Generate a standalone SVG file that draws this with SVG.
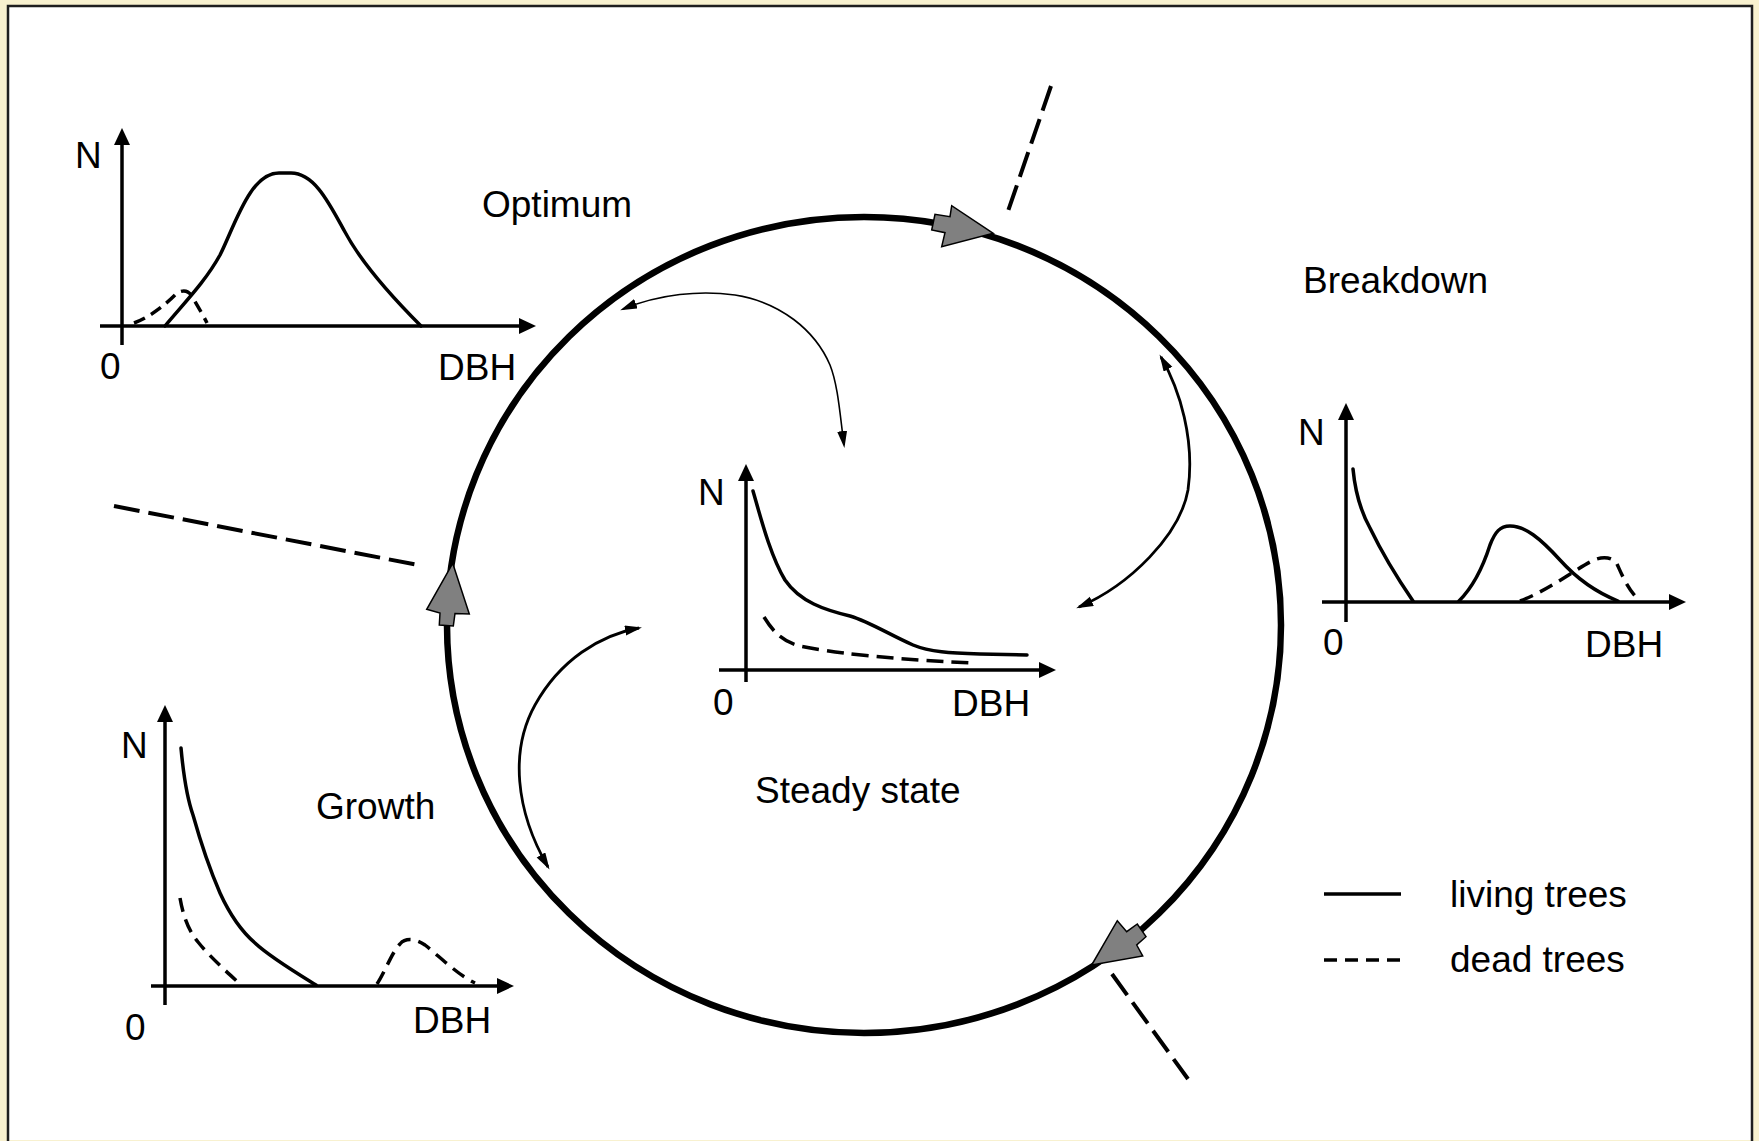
<svg xmlns="http://www.w3.org/2000/svg" width="1759" height="1141" viewBox="0 0 1759 1141">
<defs>
<style>
text{font-family:"Liberation Sans",Arial,sans-serif;font-size:37px;fill:#000}
.axis{stroke:#000;stroke-width:3.5;fill:none;marker-end:url(#ax)}
.live{stroke:#000;stroke-width:3.5;fill:none;stroke-linecap:round;stroke-linejoin:round}
.dead{stroke:#000;stroke-width:3.5;fill:none;stroke-dasharray:14 8}
.bound{stroke:#000;stroke-width:4;fill:none;stroke-dasharray:26 9}
.flow{stroke:#000;fill:none;marker-start:url(#ah);marker-end:url(#ah)}
.garrow{fill:#808080;stroke:#000;stroke-width:1.5;stroke-linejoin:miter}
</style>
<marker id="ax" markerUnits="userSpaceOnUse" markerWidth="20" markerHeight="20" refX="2" refY="8" orient="auto"><path d="M0,0 L17,8 L0,16 z" fill="#000"/></marker>
<marker id="ah" markerUnits="userSpaceOnUse" markerWidth="20" markerHeight="14" refX="14" refY="5" orient="auto-start-reverse"><path d="M0,0 L17,5 L0,10 z" fill="#000"/></marker>
</defs>
<rect x="0" y="0" width="1759" height="1141" fill="#f8f1cf"/>
<rect x="8" y="6" width="1744" height="1134" fill="#ffffff"/>
<path d="M8,1141 V6 H1752 V1141" fill="none" stroke="#1e1e1e" stroke-width="2.5"/>

<g id="cycle">
<ellipse cx="864" cy="625" rx="417" ry="408" fill="none" stroke="#000" stroke-width="6.5"/>
</g>

<g id="optimum">
<line class="axis" x1="122" y1="345" x2="122" y2="143"/>
<line class="axis" x1="100" y1="326" x2="521" y2="326"/>
<path class="live" d="M165,326 C185,302 205,282 220,255 C235,225 250,173 279,173 L291,173 C315,173 330,205 345,232 C360,260 385,290 421,326"/>
<path class="dead" style="stroke-dasharray:12 7" d="M134,323 C150,317 165,305 175,295 C182,288 190,291 193,298 C198,307 203,315 207,323"/>
<text x="75" y="168">N</text>
<text x="100" y="379">0</text>
<text x="438" y="380">DBH</text>
<text x="482" y="217">Optimum</text>
</g>

<g id="growth">
<line class="axis" x1="165" y1="1005" x2="165" y2="720"/>
<line class="axis" x1="151" y1="986" x2="499" y2="986"/>
<path class="live" d="M181,748 C183,770 186,795 193,815 C200,840 210,870 220,893 C230,915 240,930 255,943 C270,957 295,972 316,985"/>
<path class="dead" d="M180,898 C183,915 188,930 198,942 C210,957 228,973 240,984"/>
<path class="dead" d="M377,984 C385,972 392,952 400,944 C405,938 415,938 425,945 C440,957 458,975 475,983"/>
<text x="121" y="758">N</text>
<text x="125" y="1040">0</text>
<text x="413" y="1033">DBH</text>
<text x="316" y="819">Growth</text>
</g>

<g id="breakdown">
<line class="axis" x1="1346" y1="622" x2="1346" y2="418"/>
<line class="axis" x1="1322" y1="602" x2="1671" y2="602"/>
<path class="live" d="M1353,469 C1355,490 1360,510 1370,528 C1383,555 1400,582 1413,601"/>
<path class="live" d="M1459,601 C1470,590 1482,570 1490,545 C1495,532 1500,526 1510,526 C1525,526 1540,538 1560,560 C1578,580 1598,593 1618,601"/>
<path class="dead" d="M1520,601 C1545,592 1575,570 1590,562 C1600,556 1612,556 1617,564 C1622,575 1628,590 1640,601"/>
<text x="1298" y="445">N</text>
<text x="1323" y="655">0</text>
<text x="1585" y="657">DBH</text>
<text x="1303" y="293">Breakdown</text>
</g>

<g id="steady-state">
<line class="axis" x1="746" y1="682" x2="746" y2="479"/>
<line class="axis" x1="719" y1="670" x2="1041" y2="670"/>
<path class="live" d="M753,491 C760,515 770,555 785,580 C800,602 825,610 850,616 C870,622 890,635 913,645 C930,652 950,653 980,654 L1027,655"/>
<path class="dead" style="stroke-dasharray:17 8" d="M764,617 C772,630 782,642 800,646 C830,652 880,659 975,663"/>
<text x="698" y="505">N</text>
<text x="713" y="715">0</text>
<text x="952" y="716">DBH</text>
<text x="755" y="803">Steady state</text>
</g>

<g id="legend">
<line x1="1324" y1="894" x2="1401" y2="894" stroke="#000" stroke-width="3.5"/>
<line class="dead" x1="1324" y1="960" x2="1401" y2="960" style="stroke-dasharray:13 8"/>
<text x="1450" y="907">living trees</text>
<text x="1450" y="972">dead trees</text>
</g>

<g id="connectors">
<polygon class="garrow" points="993.3,233.3 951.7,205.7 950,216.7 935,214.3 931.7,230 945,232.7 941.7,246.7"/>
<polygon class="garrow" points="452.7,563.3 469.3,614 455,613.5 453.3,626 439.3,625 440,613 426.7,609.3"/>
<polygon class="garrow" points="1091.7,965 1117.3,920.7 1126.7,931.7 1137.3,924 1146,936.7 1136.7,945 1142.7,956"/>
<line class="bound" x1="1051" y1="86" x2="1006" y2="217"/>
<line class="bound" x1="114" y1="506" x2="418" y2="565"/>
<line class="bound" x1="1112" y1="974" x2="1188" y2="1079"/>
<path class="flow" stroke-width="1.6" d="M623,309 C660,294 700,290 735,295 C780,302 815,330 830,365 C838,385 840,415 844,445"/>
<path class="flow" stroke-width="2.8" d="M1161,357 C1180,390 1195,440 1188,490 C1180,535 1130,585 1079,607"/>
<path class="flow" stroke-width="2.8" d="M639,628 C600,635 560,660 535,705 C510,750 515,810 548,867"/>
</g>
</svg>
